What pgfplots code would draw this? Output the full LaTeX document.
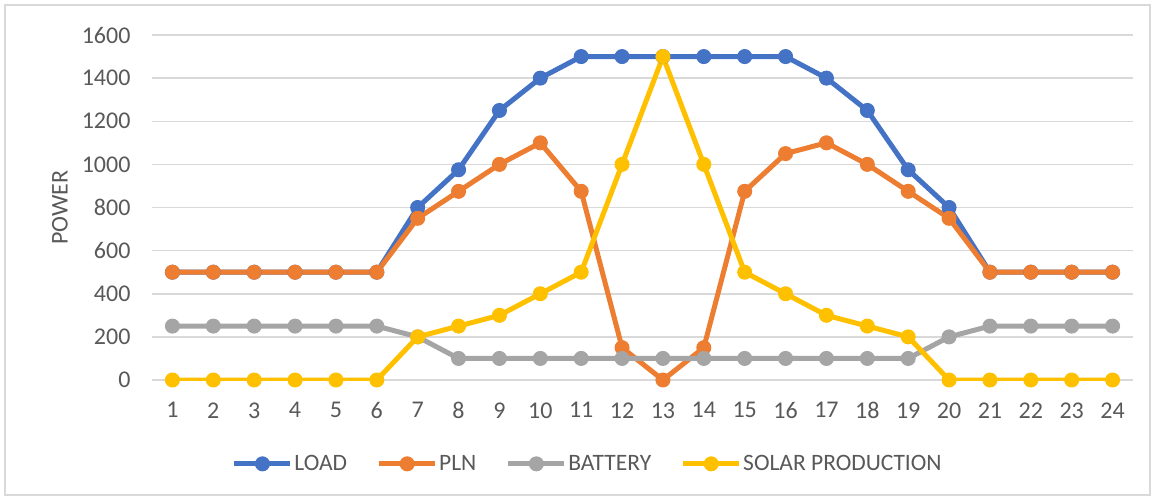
\documentclass[border=0pt]{standalone}
\usepackage{fontspec}
\setmainfont{Carlito}
\usepackage{pgfplots}
\pgfplotsset{compat=1.18}
\definecolor{cload}{HTML}{4472C4}
\definecolor{cpln}{HTML}{ED7D31}
\definecolor{cbat}{HTML}{A5A5A5}
\definecolor{csol}{HTML}{FFC000}
\definecolor{cgrid}{HTML}{D9D9D9}
\definecolor{ctext}{HTML}{595959}
\begin{document}
\begin{tikzpicture}
\path[use as bounding box] (0pt,0pt) rectangle (1156pt,-500pt);
\fill[white] (0pt,0pt) rectangle (1156pt,-500pt);
\draw[cgrid,line width=1.2pt] (5pt,-5pt) rectangle (1150pt,-495pt);
\begin{axis}[
  at={(152pt,-380pt)}, anchor=south west,
  scale only axis, width=981pt, height=345pt,
  xmin=0.5, xmax=24.5, ymin=0, ymax=1600,
  xtick={1,...,24}, ytick={0,200,...,1600},
  ymajorgrids, grid style={cgrid,line width=1.5pt},
  axis line style={draw=none},
  major tick length=0pt,
  /pgf/number format/assume math mode=true,
  /pgf/number format/1000 sep={},
  ticklabel style={font=\fontsize{24}{28}\selectfont, text=ctext},
  xticklabel style={yshift=-19pt},
  yticklabel style={xshift=-18pt},
  ylabel={POWER},
  ylabel style={at={(axis description cs:-0.0938,0.5)}, anchor=center, font=\fontsize{24}{28}\selectfont, text=ctext},
  every axis plot/.append style={line width=5pt, mark=*, mark size=7pt, line join=round},
  legend columns=4,
  legend style={at={(0.444,-0.243)}, anchor=center, draw=none, fill=none,
    font=\fontsize{23.5}{28}\selectfont, text=ctext,
    nodes={inner sep=1.5pt},
    /tikz/every even column/.append style={column sep=28pt}},
  legend image code/.code={\draw[#1, mark repeat=2, mark phase=2] plot coordinates {(0pt,0pt) (28pt,0pt) (56pt,0pt)};},
]
\addplot[cload, mark options={fill=cload, draw=cload, line width=1pt}] coordinates {
(1,500)(2,500)(3,500)(4,500)(5,500)(6,500)(7,800)(8,975)(9,1250)(10,1400)(11,1500)(12,1500)(13,1500)(14,1500)(15,1500)(16,1500)(17,1400)(18,1250)(19,975)(20,800)(21,500)(22,500)(23,500)(24,500)};
\addlegendentry{LOAD}
\addplot[cpln, mark options={fill=cpln, draw=cpln, line width=1pt}] coordinates {
(1,500)(2,500)(3,500)(4,500)(5,500)(6,500)(7,750)(8,875)(9,1000)(10,1100)(11,875)(12,150)(13,0)(14,150)(15,875)(16,1050)(17,1100)(18,1000)(19,875)(20,750)(21,500)(22,500)(23,500)(24,500)};
\addlegendentry{PLN}
\addplot[cbat, mark options={fill=cbat, draw=cbat, line width=1pt}] coordinates {
(1,250)(2,250)(3,250)(4,250)(5,250)(6,250)(7,200)(8,100)(9,100)(10,100)(11,100)(12,100)(13,100)(14,100)(15,100)(16,100)(17,100)(18,100)(19,100)(20,200)(21,250)(22,250)(23,250)(24,250)};
\addlegendentry{BATTERY}
\addplot[csol, mark options={fill=csol, draw=csol, line width=1pt}] coordinates {
(1,0)(2,0)(3,0)(4,0)(5,0)(6,0)(7,200)(8,250)(9,300)(10,400)(11,500)(12,1000)(13,1500)(14,1000)(15,500)(16,400)(17,300)(18,250)(19,200)(20,0)(21,0)(22,0)(23,0)(24,0)};
\addlegendentry{SOLAR PRODUCTION}
\end{axis}
\end{tikzpicture}
\end{document}
